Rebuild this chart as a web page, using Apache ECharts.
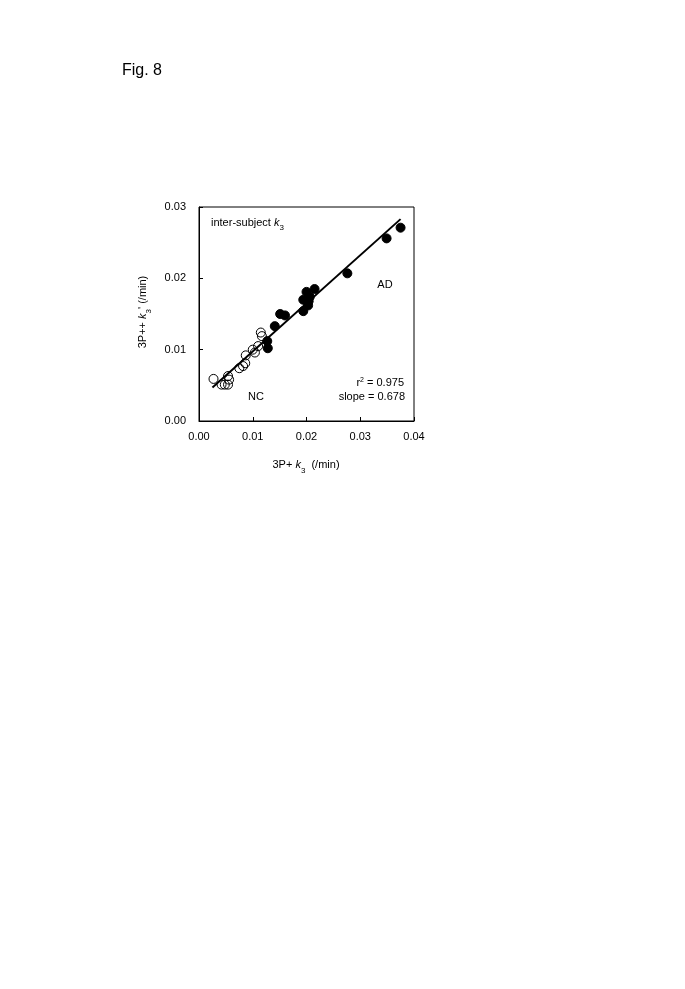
<!DOCTYPE html>
<html><head><meta charset="utf-8">
<script src="https://cdn.jsdelivr.net/npm/echarts@6/dist/echarts.min.js"></script>
<style>html,body{margin:0;padding:0;background:#fff}#c{width:685px;height:989px}</style>
</head><body><div id="c"></div>
<script>
// NC (open circles)
const ncX = [0.0027,0.0042,0.0048,0.0054,0.0056,0.0054,0.0075,0.0082,0.0086,0.0087,0.0100,0.0104,0.0110,0.0115,0.0117];
const ncY = [0.0059,0.0051,0.0051,0.0051,0.0058,0.0063,0.0074,0.0077,0.0081,0.0092,0.0100,0.0096,0.0105,0.0124,0.0119];
// AD (filled circles)
const adX = [0.0127,0.0128,0.0141,0.0151,0.0160,0.0194,0.0194,0.0200,0.0203,0.0204,0.0206,0.0215,0.0276,0.0349,0.0375];
const adY = [0.0112,0.0102,0.0133,0.0150,0.0148,0.0154,0.0170,0.0181,0.0162,0.0168,0.0174,0.0185,0.0207,0.0256,0.0271];
// regression line endpoints
const fitX = [0.0025,0.0375];
const fitY = [0.0047,0.0283];
const xTicks = ['0.00','0.01','0.02','0.03','0.04'];
const yTicks = ['0.00','0.01','0.02','0.03'];

const zip = (a,b)=>a.map((v,i)=>[v,b[i]]);
const FONT = 'Liberation Sans, Arial, sans-serif';
const chart = echarts.init(document.getElementById('c'));
const sub = {fontSize:8, fontFamily:FONT, color:'#000', verticalAlign:'bottom', lineHeight:8, padding:[0,0,-4,0]};
chart.setOption({
  animation:false,
  backgroundColor:'#fff',
  grid:{left:199, top:207, width:215, height:214, show:true, borderColor:'#000', borderWidth:1, backgroundColor:'transparent'},
  xAxis:{type:'value', min:0, max:0.04, interval:0.01,
    axisLine:{show:true, onZero:false, lineStyle:{color:'#000', width:1}},
    axisTick:{show:true, inside:true, length:4, lineStyle:{color:'#000'}},
    splitLine:{show:false},
    axisLabel:{color:'#000', fontSize:11, fontFamily:FONT, margin:10, formatter:(v)=>xTicks[Math.round(v*100)]}
  },
  yAxis:{type:'value', min:0, max:0.03, interval:0.01,
    axisLine:{show:true, onZero:false, lineStyle:{color:'#000', width:1}},
    axisTick:{show:true, inside:true, length:4, lineStyle:{color:'#000'}},
    splitLine:{show:false},
    axisLabel:{color:'#000', fontSize:11, fontFamily:FONT, margin:13, formatter:(v)=>yTicks[Math.round(v*100)]}
  },
  series:[
    {type:'line', data:zip(fitX,fitY), symbol:'none', lineStyle:{color:'#000', width:2}, z:1},
    {type:'scatter', data:zip(ncX,ncY), symbol:'circle', symbolSize:9,
      itemStyle:{color:'rgba(255,255,255,0)', borderColor:'#000', borderWidth:1, opacity:1}, z:3},
    {type:'scatter', data:zip(adX,adY), symbol:'circle', symbolSize:9,
      itemStyle:{color:'#000', borderColor:'#000', borderWidth:1, opacity:1}, z:3}
  ],
  graphic:[
    {type:'text', left:122, top:63, style:{text:'Fig. 8', font:'16px '+FONT, fill:'#000'}},
    {type:'text', x:211, y:217, style:{text:'inter-subject {i|k}{s|3}', font:'11px '+FONT, fill:'#000',
      rich:{i:{fontStyle:'italic', fontSize:11, fontFamily:FONT}, s:sub}}},
    {type:'text', x:385, y:285, style:{text:'AD', font:'11px '+FONT, fill:'#000', align:'center', verticalAlign:'middle'}},
    {type:'text', x:256, y:397, style:{text:'NC', font:'11px '+FONT, fill:'#000', align:'center', verticalAlign:'middle'}},
    {type:'text', x:404, y:383, style:{text:'r{p|2} = 0.975', font:'11px '+FONT, fill:'#000', align:'right', verticalAlign:'middle',
      rich:{p:{fontSize:7, fontFamily:FONT, verticalAlign:'top', padding:[0,0,5,0]}}}},
    {type:'text', x:405, y:397, style:{text:'slope = 0.678', font:'11px '+FONT, fill:'#000', align:'right', verticalAlign:'middle'}},
    {type:'text', x:306, y:465, style:{text:'3P+ {i|k}{s|3}  (/min)', font:'11px '+FONT, fill:'#000', align:'center', verticalAlign:'middle',
      rich:{i:{fontStyle:'italic', fontSize:11, fontFamily:FONT}, s:sub}}},
    {type:'text', x:143, y:312, rotation:Math.PI/2, style:{text:"3P++ {i|k}{s|3}' (/min)", font:'11px '+FONT, fill:'#000', align:'center', verticalAlign:'middle',
      rich:{i:{fontStyle:'italic', fontSize:11, fontFamily:FONT}, s:sub}}}
  ]
});
</script></body></html>
